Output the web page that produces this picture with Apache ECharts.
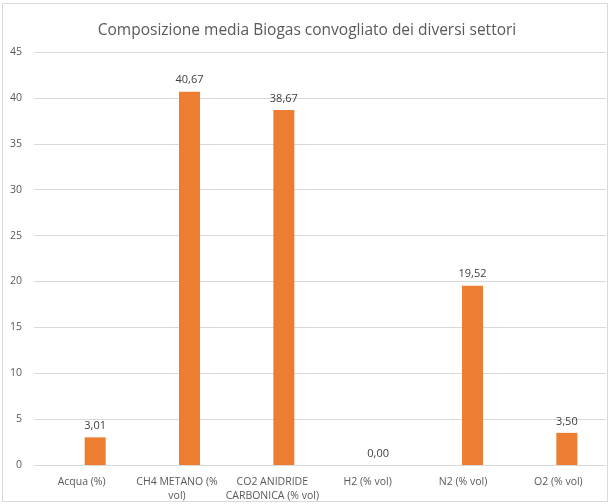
<!DOCTYPE html>
<html>
<head>
<meta charset="utf-8">
<style>html,body{margin:0;padding:0;background:#fff;}#c{width:614px;height:504px;}</style>
<script src="https://cdn.jsdelivr.net/npm/echarts@6/dist/echarts.min.js"></script>
</head>
<body>
<div id="c"></div>
<script>
const title = "Composizione media Biogas convogliato dei diversi settori";
const categories = ["Acqua (%)", "CH4 METANO (%\nvol)", "CO2 ANIDRIDE\nCARBONICA (% vol)", "H2 (% vol)", "N2 (% vol)", "O2 (% vol)"];
const values = [3.01, 40.67, 38.67, 0.00, 19.52, 3.50];
const yMin = 0, yMax = 45, yStep = 5;

const chart = echarts.init(document.getElementById('c'), null, {renderer: 'canvas'});
const font = "'Open Sans', 'Noto Sans', sans-serif";
chart.setOption({
  animation: false,
  backgroundColor: '#ffffff',
  title: {
    text: title, left: 'center', top: 18,
    textStyle: {fontFamily: font, fontSize: 15.5, fontWeight: 'normal', color: '#595959'}
  },
  graphic: [{
    type: 'rect', shape: {x: 2.5, y: 3.5, width: 605, height: 498},
    style: {fill: 'none', stroke: '#d9d9d9', lineWidth: 1}, silent: true
  }],
  grid: [
    {left: 34, right: 8, top: 52, bottom: 39, containLabel: false},
    {left: 48, right: -8, top: 52, bottom: 39, containLabel: false}
  ],
  xAxis: [
    {gridIndex: 0, type: 'category', data: categories,
     axisLine: {show: true, lineStyle: {color: '#d9d9d9', width: 1}},
     axisTick: {show: false},
     axisLabel: {fontFamily: font, fontSize: 10.5, color: '#595959', margin: 10, lineHeight: 14, interval: 0},
     splitLine: {show: false}},
    {gridIndex: 1, type: 'category', data: categories, show: false}
  ],
  yAxis: [
    {gridIndex: 0, type: 'value', min: yMin, max: yMax, interval: yStep,
     axisLine: {show: false}, axisTick: {show: false},
     axisLabel: {fontFamily: font, fontSize: 10.5, color: '#595959', margin: 12},
     splitLine: {lineStyle: {color: '#d9d9d9', width: 1}}},
    {gridIndex: 1, type: 'value', min: yMin, max: yMax, interval: yStep, show: false, splitLine: {show: false}}
  ],
  series: [{
    type: 'bar', xAxisIndex: 1, yAxisIndex: 1, data: values, barWidth: 21,
    itemStyle: {color: '#ED7D31'},
    label: {show: true, position: 'top', distance: 6, fontFamily: font, fontSize: 11, color: '#404040',
      formatter: p => p.value.toFixed(2).replace('.', ',')}
  }]
});
</script>
</body>
</html>
